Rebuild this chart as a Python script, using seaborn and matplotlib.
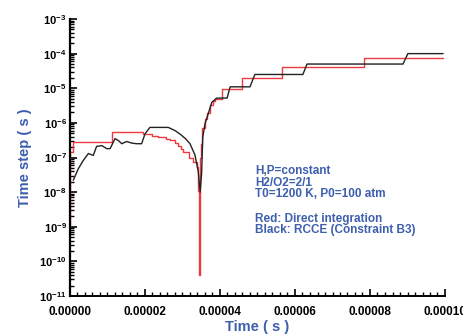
import numpy as np
import pandas as pd
import matplotlib
matplotlib.use("Agg")
import matplotlib.pyplot as plt
from matplotlib.ticker import FixedLocator, FixedFormatter, MultipleLocator, LogLocator, NullFormatter
import seaborn as sns

# ---- data ----
red_t = [0, 0, 0.9e-6, 1.11e-5, 1.95e-5, 2.2e-5, 2.35e-5, 2.55e-5, 2.67e-5, 2.8e-5,
         2.89e-5, 2.96e-5, 3.02e-5, 3.16e-5, 3.29e-5, 3.38e-5, 3.42e-5, 3.45e-5,
         3.455e-5, 3.47e-5, 3.5e-5, 3.53e-5, 3.6e-5, 3.66e-5, 3.73e-5, 3.81e-5,
         3.87e-5, 4.05e-5, 4.6e-5, 5.66e-5, 7.83e-5, 9.95e-5]
red_dt = [1e-9, 1.4e-7, 2.8e-7, 5.4e-7, 4.8e-7, 4.3e-7, 3.8e-7, 3.4e-7, 3.1e-7, 2.6e-7,
          2.2e-7, 1.8e-7, 1.4e-7, 1.0e-7, 7.4e-8, 5.2e-8, 1.1e-8, 4e-11,
          1e-8, 1e-7, 2.5e-7, 7e-7, 1.3e-6, 1.9e-6, 3.2e-6, 4.4e-6,
          5e-6, 9.5e-6, 2.0e-5, 4.0e-5, 7.7e-5, 7.7e-5]

black_t = [0.88e-6, 2.2e-6, 3.5e-6, 4.9e-6, 6.2e-6, 7.1e-6, 8.5e-6, 9.8e-6, 1.07e-5,
           1.2e-5, 1.29e-5, 1.38e-5, 1.51e-5, 1.65e-5, 1.78e-5, 1.91e-5, 2.0e-5,
           2.13e-5, 2.62e-5, 2.8e-5, 2.95e-5, 3.08e-5, 3.2e-5, 3.33e-5, 3.42e-5,
           3.47e-5, 3.51e-5, 3.54e-5, 3.6e-5, 3.69e-5, 3.78e-5, 3.91e-5, 4.19e-5,
           4.27e-5, 4.8e-5, 4.93e-5, 6.21e-5, 6.32e-5, 8.88e-5, 9.01e-5, 9.95e-5]
black_dt = [2.2e-8, 4.7e-8, 8.1e-8, 1.3e-7, 1.15e-7, 2.1e-7, 2.2e-7, 1.8e-7, 1.8e-7,
            3.5e-7, 3.1e-7, 2.5e-7, 2.9e-7, 2.6e-7, 2.5e-7, 2.5e-7, 4.8e-7,
            7.4e-7, 7.4e-7, 6e-7, 4.6e-7, 3.5e-7, 2.5e-7, 1.2e-7, 4.0e-8,
            1.0e-8, 3.5e-8, 3.8e-7, 9.5e-7, 1.9e-6, 3.9e-6, 5.2e-6, 5.2e-6,
            1.1e-5, 1.1e-5, 2.5e-5, 2.5e-5, 5e-5, 5e-5, 1.0e-4, 1.0e-4]

x_ticks = [0, 2e-5, 4e-5, 6e-5, 8e-5, 1e-4]
x_tick_labels = ["0.00000", "0.00002", "0.00004", "0.00006", "0.00008", "0.00010"]
y_ticks = [1e-11, 1e-10, 1e-9, 1e-8, 1e-7, 1e-6, 1e-5, 1e-4, 1e-3]
y_tick_labels = [r"$\mathbf{10^{-11}}$", r"$\mathbf{10^{-10}}$", r"$\mathbf{10^{-9}}$",
                 r"$\mathbf{10^{-8}}$", r"$\mathbf{10^{-7}}$", r"$\mathbf{10^{-6}}$",
                 r"$\mathbf{10^{-5}}$", r"$\mathbf{10^{-4}}$", r"$\mathbf{10^{-3}}$"]

annotation_lines = ["H,P=constant", "H2/O2=2/1", "T0=1200 K, P0=100 atm",
                    "Red: Direct integration", "Black: RCCE (Constraint B3)"]

red_df = pd.DataFrame({"t": red_t, "dt": red_dt})
black_df = pd.DataFrame({"t": black_t, "dt": black_dt})

# ---- style ----
sns.set_theme(style="ticks")
plt.rcParams["font.family"] = ["Liberation Sans", "DejaVu Sans"]
plt.rcParams["mathtext.fontset"] = "custom"
plt.rcParams["mathtext.rm"] = "Liberation Sans:bold"
plt.rcParams["mathtext.bf"] = "Liberation Sans:bold"
plt.rcParams["mathtext.it"] = "Liberation Sans:bold"

BLUE = "#3d5fae"
W, H = 464, 334

fig = plt.figure(figsize=(4.64, 3.34), dpi=100)
ax = fig.add_axes([70 / W, 38 / H, 375 / W, 277 / H])

sns.lineplot(data=red_df, x="t", y="dt", ax=ax, color="#ef3a40", linewidth=1.0,
             estimator=None, sort=False, drawstyle="steps-post")
sns.lineplot(data=black_df, x="t", y="dt", ax=ax, color="#222222", linewidth=1.0,
             estimator=None, sort=False)

ax.set_yscale("log")
ax.set_xlim(0, 1e-4)
ax.set_ylim(1e-11, 1e-3)

ax.xaxis.set_major_locator(FixedLocator(x_ticks))
ax.xaxis.set_major_formatter(FixedFormatter(x_tick_labels))
ax.xaxis.set_minor_locator(MultipleLocator(2e-6))
ax.yaxis.set_major_locator(FixedLocator(y_ticks))
ax.yaxis.set_major_formatter(FixedFormatter(y_tick_labels))
ax.yaxis.set_minor_locator(LogLocator(base=10, subs=np.arange(2, 10)))
ax.yaxis.set_minor_formatter(NullFormatter())

ax.tick_params(which="major", direction="in", length=5, width=1.2, colors="black")
ax.tick_params(which="minor", direction="in", length=3, width=1.0, colors="black")
ax.tick_params(axis="x", which="major", labelsize=8.5, pad=7.5)
ax.tick_params(axis="y", which="major", labelsize=8, pad=2.5)
for lab in ax.get_xticklabels():
    lab.set_fontweight("bold")

sns.despine(ax=ax)
ax.spines["left"].set_linewidth(1.6)
ax.spines["bottom"].set_linewidth(1.4)
ax.spines["left"].set_color("black")
ax.spines["bottom"].set_color("black")

ax.set_xlabel("Time ( s )", color=BLUE, fontsize=10.5, fontweight="bold", labelpad=1)
ax.set_ylabel("Time step ( s )", color=BLUE, fontsize=10.5, fontweight="bold", labelpad=5)

line_y = [171.5, 183, 194.3, 219.3, 230.5]
for txt, yy in zip(annotation_lines, line_y):
    fig.text(255 / W, 1 - yy / H, txt, color=BLUE, fontsize=8.5, fontweight="bold",
             va="center", ha="left")

fig.savefig("out.png", dpi=100)
